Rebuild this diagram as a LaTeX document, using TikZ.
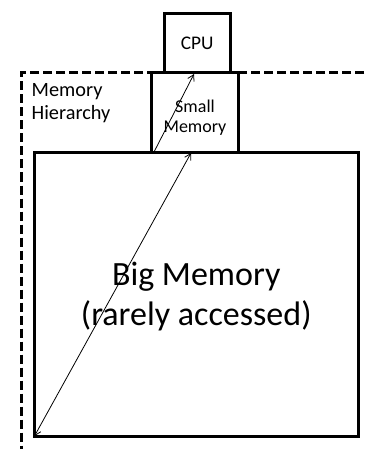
\documentclass[tikz,border=0pt]{standalone}
\usepackage{fontspec}
\setmainfont{Carlito}
\usetikzlibrary{arrows.meta}
\begin{document}
\begin{tikzpicture}[x=1pt,y=-1pt,
  box/.style={draw,line width=3pt,inner sep=0pt,outer sep=0pt,rectangle},
  txt/.style={inner sep=0pt,align=center,anchor=base},
  barb/.tip={Straight Barb[length=6pt,width=7pt]},
  conn/.style={line width=0.8pt}]
\useasboundingbox (0,0) rectangle (364,449);
\draw[line width=3pt, dash pattern=on 9pt off 4pt] (364,73) -- (21.5,73) -- (21.5,452);
\node[box, minimum width=323.5pt, minimum height=283pt] (big) at (196.25,294.5) {};
\node[box, minimum width=86.5pt, minimum height=80pt] (small) at (194.75,113) {};
\node[box, minimum width=65.5pt, minimum height=59pt] (cpu) at (197.25,43.5) {};
\node[txt, font=\fontsize{34}{40}\selectfont] (bigtxt) at (196.25,325) {Big Memory\\(rarely accessed)};
\node[txt, font=\fontsize{18}{20.5}\selectfont] (smalltxt) at (195,133) {Small\\Memory};
\node[txt, font=\fontsize{19.3}{23}\selectfont] (cputxt) at (197.25,50) {CPU};
\node[anchor=base west, align=left, inner sep=0pt, font=\fontsize{20.3}{23}\selectfont] (lbl) at (31.5,120) {Memory\\Hierarchy};
\coordinate (a1) at (191,153);
\coordinate (s1) at (154,152);
\coordinate (s2) at (194,74);
\draw[conn, barb-barb] (big.south west) -- (a1);
\draw[conn, -barb] (s1) -- (s2);
\end{tikzpicture}
\end{document}
